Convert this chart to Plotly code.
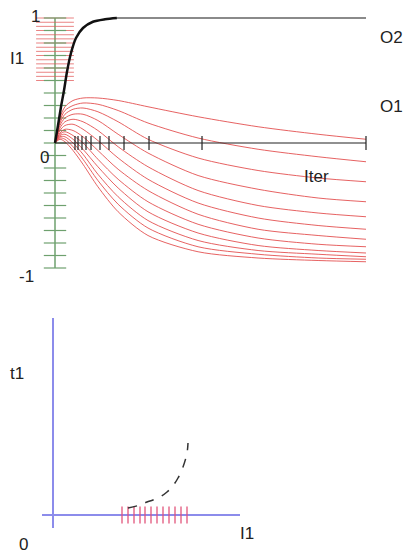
import plotly.graph_objects as go

# ---------------- top panel data (Iter on x, value on y) ----------------
iter_x = [0, 1.6, 3.2, 5.8, 9.0, 13.8, 20.3, 29.9, 46.0, 65.3, 84.6, 100]

o1_c01 = [0, 0.20, 0.29, 0.34, 0.36, 0.36, 0.34, 0.29, 0.21, 0.13, 0.07, 0.03]
o1_c02 = [0, 0.18, 0.26, 0.30, 0.32, 0.31, 0.26, 0.16, 0.04, -0.05, -0.11, -0.15]
o1_c03 = [0, 0.16, 0.23, 0.27, 0.28, 0.25, 0.17, 0.03, -0.12, -0.22, -0.28, -0.31]
o1_c04 = [0, 0.14, 0.20, 0.23, 0.23, 0.18, 0.07, -0.08, -0.26, -0.37, -0.44, -0.47]
o1_c05 = [0, 0.12, 0.17, 0.19, 0.17, 0.10, -0.03, -0.19, -0.38, -0.50, -0.56, -0.59]
o1_c06 = [0, 0.10, 0.14, 0.15, 0.11, 0.02, -0.12, -0.29, -0.48, -0.60, -0.66, -0.69]
o1_c07 = [0, 0.08, 0.11, 0.10, 0.05, -0.06, -0.21, -0.38, -0.57, -0.69, -0.74, -0.77]
o1_c08 = [0, 0.07, 0.09, 0.06, 0.00, -0.13, -0.29, -0.47, -0.65, -0.76, -0.81, -0.83]
o1_c09 = [0, 0.06, 0.07, 0.03, -0.05, -0.19, -0.36, -0.55, -0.72, -0.82, -0.86, -0.88]
o1_c10 = [0, 0.05, 0.05, 0.00, -0.09, -0.25, -0.43, -0.62, -0.78, -0.86, -0.89, -0.91]
o1_c11 = [0, 0.04, 0.03, -0.03, -0.13, -0.30, -0.49, -0.68, -0.83, -0.89, -0.92, -0.93]
o1_c12 = [0, 0.03, 0.01, -0.06, -0.17, -0.35, -0.55, -0.74, -0.87, -0.92, -0.94, -0.95]

o2_x = [0, 0.96, 1.93, 2.89, 3.86, 5.14, 6.75, 9.0, 12.2, 16.1, 19.9, 100]
o2_y = [0, 0.14, 0.29, 0.42, 0.57, 0.72, 0.84, 0.92, 0.97, 0.99, 1.0, 1.0]

iter_ticks = [6.43, 7.40, 8.68, 9.97, 11.58, 14.47, 17.36, 22.19, 30.23, 47.27, 100]
green_ticks = [1.0, 0.9, 0.8, 0.7, 0.6, 0.5, 0.4, 0.3, 0.2, 0.1, 0.0,
               -0.1, -0.2, -0.3, -0.4, -0.5, -0.6, -0.7, -0.8, -0.9, -1.0]
red_ticks = [1.0, 0.966, 0.933, 0.9, 0.866, 0.833, 0.8, 0.766, 0.733,
             0.7, 0.666, 0.633, 0.6, 0.566, 0.533, 0.5]

# ---------------- bottom panel data (I1 on x, t1 on y) ----------------
path_i1 = [0.375, 0.435, 0.47, 0.5, 0.535, 0.57, 0.595, 0.625, 0.65, 0.67, 0.675]
path_t1 = [0.035, 0.05, 0.065, 0.075, 0.09, 0.115, 0.14, 0.185, 0.24, 0.31, 0.36]
rug_i1 = [0.345, 0.375, 0.405, 0.435, 0.46, 0.49, 0.52, 0.55, 0.58, 0.61, 0.64, 0.67]

o1_curves = [o1_c01, o1_c02, o1_c03, o1_c04, o1_c05, o1_c06,
             o1_c07, o1_c08, o1_c09, o1_c10, o1_c11, o1_c12]

RED = "rgba(226,70,70,0.85)"
GREEN = "rgb(110,160,110)"
BLUE = "rgb(140,140,235)"
FONT = "Liberation Sans"

fig = go.Figure()

# vertical green axis of the top panel
fig.add_trace(go.Scatter(x=[0, 0], y=[-1, 1], mode="lines",
                         line=dict(color=GREEN, width=1.5), hoverinfo="skip",
                         xaxis="x", yaxis="y"))
# red ticks on y axis
fig.add_trace(go.Scatter(x=[0] * len(red_ticks), y=red_ticks, mode="markers",
                         marker=dict(symbol="line-ew", size=27,
                                     line=dict(color="rgba(225,90,90,0.75)", width=1)),
                         hoverinfo="skip", xaxis="x", yaxis="y"))
# green ticks on y axis
fig.add_trace(go.Scatter(x=[0] * len(green_ticks), y=green_ticks, mode="markers",
                         marker=dict(symbol="line-ew", size=16,
                                     line=dict(color=GREEN, width=1.2)),
                         hoverinfo="skip", xaxis="x", yaxis="y"))

# red O1 curves
for c in o1_curves:
    fig.add_trace(go.Scatter(x=iter_x, y=c, mode="lines",
                             line=dict(color=RED, width=1, shape="spline", smoothing=0.8),
                             hoverinfo="skip", xaxis="x", yaxis="y"))

# Iter axis line and ticks
fig.add_trace(go.Scatter(x=[0, 100], y=[0, 0], mode="lines",
                         line=dict(color="#222", width=1.2), hoverinfo="skip",
                         xaxis="x", yaxis="y"))
fig.add_trace(go.Scatter(x=iter_ticks, y=[0] * len(iter_ticks), mode="markers",
                         marker=dict(symbol="line-ns", size=10,
                                     line=dict(color="#222", width=1.2)),
                         hoverinfo="skip", xaxis="x", yaxis="y"))

# O2 curve: rising part black, plateau grey
fig.add_trace(go.Scatter(x=o2_x[-2:], y=o2_y[-2:], mode="lines",
                         line=dict(color="#8a8a8a", width=2), hoverinfo="skip",
                         xaxis="x", yaxis="y"))
fig.add_trace(go.Scatter(x=o2_x[:-1], y=o2_y[:-1], mode="lines",
                         line=dict(color="#111", width=2.5, shape="spline", smoothing=0.8),
                         hoverinfo="skip", xaxis="x", yaxis="y"))

# ---------------- bottom panel ----------------
fig.add_trace(go.Scatter(x=[0, 0], y=[-0.065, 0.985], mode="lines",
                         line=dict(color=BLUE, width=2), hoverinfo="skip",
                         xaxis="x2", yaxis="y2"))
fig.add_trace(go.Scatter(x=[-0.055, 0.935], y=[0, 0], mode="lines",
                         line=dict(color=BLUE, width=2), hoverinfo="skip",
                         xaxis="x2", yaxis="y2"))
fig.add_trace(go.Scatter(x=rug_i1, y=[0] * len(rug_i1), mode="markers",
                         marker=dict(symbol="line-ns", size=12,
                                     line=dict(color="rgba(225,80,120,0.85)", width=1.5)),
                         hoverinfo="skip", xaxis="x2", yaxis="y2"))
fig.add_trace(go.Scatter(x=path_i1, y=path_t1, mode="lines",
                         line=dict(color="#333", width=1.5, dash="dash", shape="spline"),
                         hoverinfo="skip", xaxis="x2", yaxis="y2"))

# ---------------- labels ----------------
W, H = 408, 554
labels = [
    ("1", 35, 17), ("I1", 17, 58), ("0", 44, 157), ("-1", 26, 276),
    ("O2", 391, 37), ("O1", 391, 107), ("Iter", 316, 176),
    ("t1", 17, 373), ("0", 23, 544), ("I1", 247, 533),
]
for txt, px, py in labels:
    fig.add_annotation(x=px / W, y=1 - py / H, xref="paper", yref="paper",
                       text=txt, showarrow=False, xanchor="center", yanchor="middle",
                       font=dict(family=FONT, size=17, color="#222"))

# top panel: origin at pixel (55,143), 3.11 px per Iter unit, 125 px per value unit
# bottom panel: origin at pixel (53,515), 200 px per unit
fig.update_layout(
    width=W, height=H, margin=dict(l=0, r=0, t=0, b=0),
    paper_bgcolor="white", plot_bgcolor="rgba(0,0,0,0)", showlegend=False,
    xaxis=dict(domain=[0, 1], range=[-55 / 3.11, (W - 55) / 3.11], visible=False,
               anchor="y", fixedrange=True),
    yaxis=dict(domain=[0, 1], range=[(143 - H) / 125, 143 / 125], visible=False,
               anchor="x", fixedrange=True),
    xaxis2=dict(domain=[0, 1], range=[-53 / 200, (W - 53) / 200], visible=False,
                anchor="y2", fixedrange=True),
    yaxis2=dict(domain=[0, 1], range=[(515 - H) / 200, 515 / 200], visible=False,
                anchor="x2", fixedrange=True),
)

fig.write_html("out.html", config={"displayModeBar": False},
               post_script="document.body.style.margin='0px';document.body.style.padding='0px';")
